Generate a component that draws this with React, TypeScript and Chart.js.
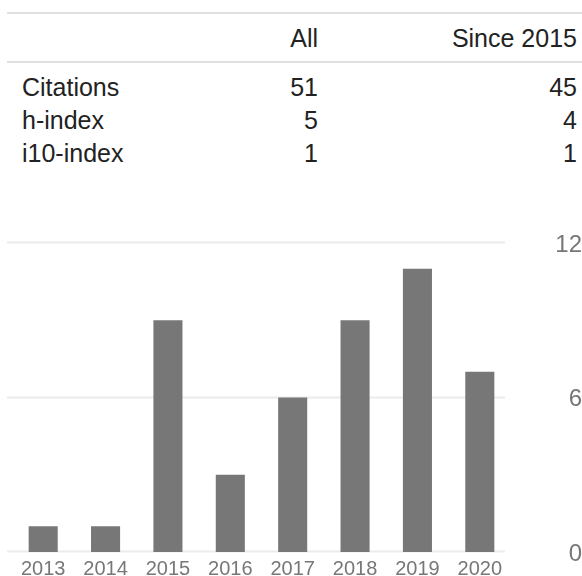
import React, { useEffect, useRef } from "react";
import { Chart, registerables } from "chart.js";

Chart.register(...registerables);

const years = ["2013", "2014", "2015", "2016", "2017", "2018", "2019", "2020"];
const citationsPerYear = [1, 1, 9, 3, 6, 9, 11, 7];
const yTicks = [0, 6, 12];

const tableHeaders = ["", "All", "Since 2015"];
const rowLabels = ["Citations", "h-index", "i10-index"];
const allValues = [51, 5, 1];
const sinceValues = [45, 4, 1];

const FONT = "'Liberation Sans', Arial, sans-serif";

const gridPlugin = {
  id: "customGrid",
  beforeDatasetsDraw(chart: any) {
    const y = chart.scales.y;
    const ctx = chart.ctx;
    ctx.save();
    ctx.strokeStyle = "#ebebeb";
    ctx.lineWidth = 2;
    for (const t of yTicks) {
      const py = Math.round(y.getPixelForValue(t)) - 0.5;
      ctx.beginPath();
      ctx.moveTo(7, py);
      ctx.lineTo(505, py);
      ctx.stroke();
    }
    ctx.restore();
  },
};

function CitationChart() {
  const ref = useRef<HTMLCanvasElement>(null);
  useEffect(() => {
    if (!ref.current) return;
    const chart = new Chart(ref.current, {
      type: "bar",
      data: {
        labels: years,
        datasets: [
          {
            data: citationsPerYear,
            backgroundColor: "#777777",
            borderWidth: 0,
            barPercentage: 0.466,
            categoryPercentage: 1,
          },
        ],
      },
      plugins: [gridPlugin],
      options: {
        responsive: false,
        animation: false,
        devicePixelRatio: 1,
        layout: { padding: { top: 23, left: 12, right: 0, bottom: 0 } },
        plugins: { legend: { display: false }, tooltip: { enabled: false } },
        scales: {
          x: {
            grid: { display: false, drawTicks: false },
            border: { display: false },
            ticks: {
              color: "#777777",
              font: { family: FONT, size: 20 },
              padding: 5,
              maxRotation: 0,
              autoSkip: false,
            },
            afterFit(scale: any) {
              scale.height = 24;
              scale.paddingLeft = 0;
              scale.paddingRight = 0;
            },
          },
          y: {
            position: "right",
            min: 0,
            max: 12,
            grid: { display: false, drawTicks: false },
            border: { display: false },
            ticks: {
              stepSize: 6,
              color: "#777777",
              font: { family: FONT, size: 24 },
              crossAlign: "far",
              padding: 39,
              labelOffset: 2,
            },
            afterFit(scale: any) {
              scale.width = 71;
              scale.paddingTop = 0;
              scale.paddingBottom = 0;
            },
          },
        },
      },
    });
    return () => chart.destroy();
  }, []);
  return (
    <canvas
      ref={ref}
      width={582}
      height={356}
      style={{ position: "absolute", left: 0, top: 220, width: 582, height: 356 }}
    />
  );
}

const textStyle: React.CSSProperties = {
  position: "absolute",
  fontFamily: FONT,
  fontSize: 25,
  lineHeight: "25px",
  color: "#222222",
  whiteSpace: "nowrap",
};

export default function App() {
  const rowTops = [75, 108, 141];
  return (
    <div
      style={{
        position: "absolute",
        left: 0,
        top: 0,
        width: 582,
        height: 576,
        overflow: "hidden",
        background: "#ffffff",
      }}
    >
      <div style={{ position: "absolute", left: 7, top: 12, width: 575, height: 2, background: "#e0e0e0" }} />
      <div style={{ ...textStyle, top: 26, right: 582 - 318, textAlign: "right" }}>{tableHeaders[1]}</div>
      <div style={{ ...textStyle, top: 26, right: 582 - 577, textAlign: "right" }}>{tableHeaders[2]}</div>
      <div style={{ position: "absolute", left: 7, top: 61, width: 575, height: 2, background: "#e0e0e0" }} />
      {rowLabels.map((label, i) => (
        <React.Fragment key={label}>
          <div style={{ ...textStyle, top: rowTops[i], left: 22 }}>{label}</div>
          <div style={{ ...textStyle, top: rowTops[i], right: 582 - 318, textAlign: "right" }}>{allValues[i]}</div>
          <div style={{ ...textStyle, top: rowTops[i], right: 582 - 577, textAlign: "right" }}>{sinceValues[i]}</div>
        </React.Fragment>
      ))}
      <CitationChart />
    </div>
  );
}
